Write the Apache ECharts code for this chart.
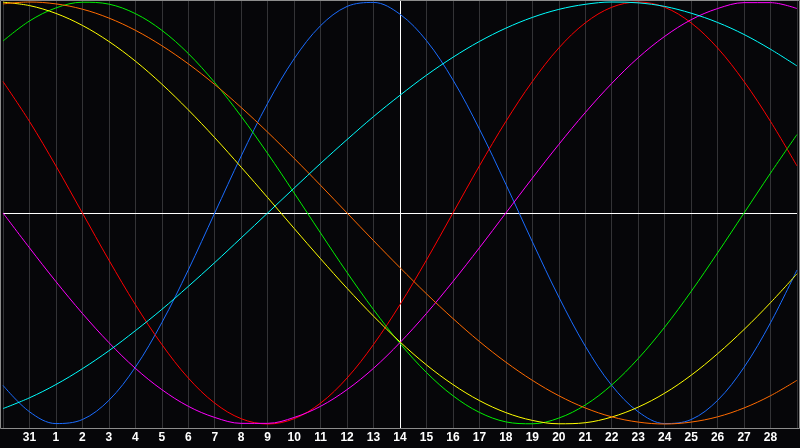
<!DOCTYPE html>
<html>
<head>
<meta charset="utf-8">
<script src="https://cdn.jsdelivr.net/npm/echarts@6/dist/echarts.min.js"></script>
<style>
  html, body { margin: 0; padding: 0; background: #060609; }
  #chart { width: 800px; height: 448px; }
</style>
</head>
<body>
<div id="chart"></div>
<script>
// one label per day, first and last are off-screen edges
const dayLabels = ["30", "31", "1", "2", "3", "4", "5", "6", "7", "8", "9", "10", "11", "12", "13",
  "14", "15", "16", "17", "18", "19", "20", "21", "22", "23", "24", "25", "26", "27", "28", "1"]
const todayIndex = 15

const physical = [-0.817, -0.942, -0.998, -0.979, -0.888, -0.731, -0.520, -0.270,
  0, 0.270, 0.520, 0.731, 0.888, 0.979, 0.998, 0.942, 0.817, 0.631, 0.398, 0.136,
  -0.136, -0.398, -0.631, -0.817, -0.942, -0.998, -0.979, -0.888, -0.731, -0.520, -0.270]
const emotional = [0.623, 0.434, 0.223, 0, -0.223, -0.434, -0.623, -0.782, -0.901, -0.975,
  -1, -0.975, -0.901, -0.782, -0.623, -0.434, -0.223,
  0, 0.223, 0.434, 0.623, 0.782, 0.901, 0.975, 1, 0.975, 0.901, 0.782, 0.623, 0.434, 0.223]
const intellectual = [0.815, 0.910, 0.972, 0.999, 0.990, 0.945, 0.866, 0.756, 0.618, 0.458,
  0.282, 0.095, -0.095, -0.282, -0.458, -0.618, -0.756, -0.866, -0.945, -0.990,
  -0.999, -0.972, -0.910, -0.815, -0.690, -0.541, -0.372, -0.189, 0, 0.189, 0.372]
const intuitive = [0, -0.165, -0.325, -0.476, -0.614, -0.736, -0.837, -0.916, -0.969, -0.997,
  -0.997, -0.969, -0.916, -0.837, -0.736, -0.614, -0.476, -0.325, -0.165,
  0, 0.165, 0.325, 0.476, 0.614, 0.736, 0.837, 0.916, 0.969, 0.997, 0.997, 0.969]
const aesthetic = [0.999, 0.983, 0.946, 0.889, 0.813, 0.720, 0.611, 0.489, 0.357, 0.217,
  0.073, -0.073, -0.217, -0.357, -0.489, -0.611, -0.720, -0.813, -0.889, -0.946,
  -0.983, -0.999, -0.994, -0.967, -0.920, -0.854, -0.769, -0.667, -0.552, -0.425, -0.288]
const awareness = [0.991, 1, 0.991, 0.966, 0.924, 0.866, 0.793, 0.707, 0.609, 0.5,
  0.383, 0.259, 0.131, 0, -0.131, -0.259, -0.383, -0.5, -0.609, -0.707,
  -0.793, -0.866, -0.924, -0.966, -0.991, -1, -0.991, -0.966, -0.924, -0.866, -0.793]
const spiritual = [-0.927, -0.876, -0.813, -0.738, -0.653, -0.558, -0.457, -0.348, -0.235, -0.118,
  0, 0.118, 0.235, 0.348, 0.457, 0.558, 0.653, 0.738, 0.813, 0.876,
  0.927, 0.965, 0.989, 1.000, 0.996, 0.979, 0.947, 0.903, 0.846, 0.776, 0.697]

const curves = [
  { name: "Physical", data: physical, color: "#1a6cff" },
  { name: "Emotional", data: emotional, color: "#ff0000" },
  { name: "Intellectual", data: intellectual, color: "#00f000" },
  { name: "Intuitive", data: intuitive, color: "#ff00ff" },
  { name: "Aesthetic", data: aesthetic, color: "#ffff00" },
  { name: "Awareness", data: awareness, color: "#ff6a00" },
  { name: "Spiritual", data: spiritual, color: "#00ffff" }
]

const chart = echarts.init(document.getElementById("chart"))

const series = curves.map((c) => ({
  name: c.name,
  type: "line",
  data: c.data,
  smooth: 0.35,
  symbol: "none",
  silent: true,
  lineStyle: { color: c.color, width: 1 },
  z: 3
}))

// today marker + zero line
series[0].markLine = {
  silent: true,
  symbol: "none",
  label: { show: false },
  lineStyle: { color: "#ffffff", width: 1, type: "solid" },
  data: [{ xAxis: todayIndex }, { yAxis: 0 }],
  z: 2
}

chart.setOption({
  backgroundColor: "#060609",
  animation: false,
  // plot box runs 0..428, curves use 2..424
  grid: { left: 0, right: 0, top: 0, bottom: 20 },
  xAxis: {
    type: "category",
    data: dayLabels,
    boundaryGap: false,
    axisLine: { show: false },
    axisTick: { show: false },
    axisLabel: {
      interval: 0,
      color: "#ffffff",
      fontFamily: "Liberation Sans",
      fontWeight: "bold",
      fontSize: 12,
      margin: 4,
      formatter: (v, i) => (i === 0 || i === dayLabels.length - 1 ? "" : v)
    },
    splitLine: { show: true, interval: 0, lineStyle: { color: "#333336", width: 1 } }
  },
  yAxis: {
    type: "value",
    min: -1.019,
    max: 1.0095,
    axisLine: { show: false },
    axisTick: { show: false },
    axisLabel: { show: false },
    splitLine: { show: false }
  },
  graphic: [{
    type: "rect",
    silent: true,
    z: 10,
    shape: { x: 0.5, y: 0.5, width: 799, height: 428 },
    style: { fill: null, stroke: "#8c8c8c", lineWidth: 1 }
  }],
  series
})
</script>
</body>
</html>
